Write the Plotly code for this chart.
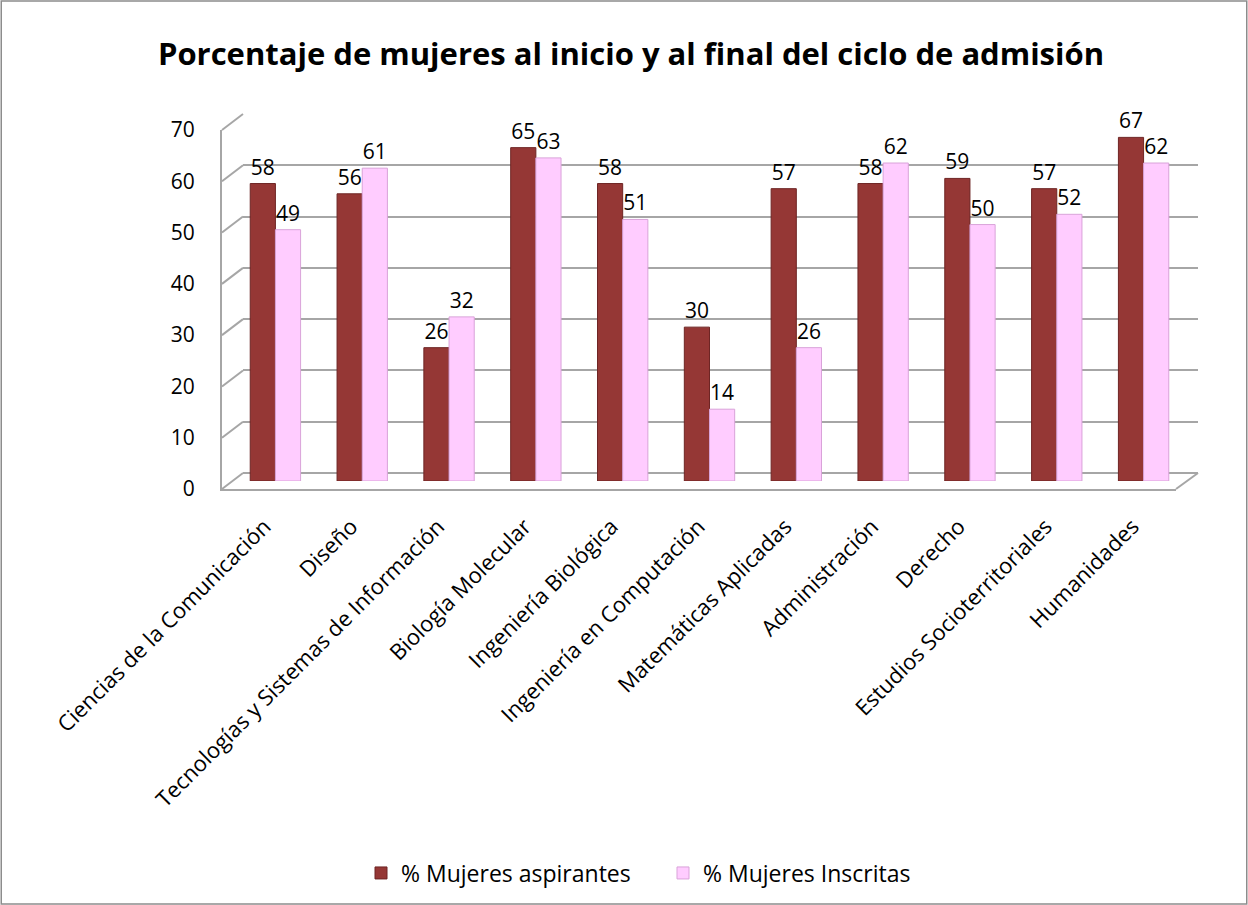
import plotly.graph_objects as go

# ---- data ----
categories = [
    "Ciencias de la Comunicación", "Diseño", "Tecnologías y Sistemas de Información",
    "Biología Molecular", "Ingeniería Biológica", "Ingeniería en Computación",
    "Matemáticas Aplicadas", "Administración", "Derecho",
    "Estudios Socioterritoriales", "Humanidades",
]
aspirantes = [58, 56, 26, 65, 58, 30, 57, 58, 59, 57, 67]
inscritas = [49, 61, 32, 63, 51, 14, 26, 62, 50, 52, 62]
series_names = ["% Mujeres aspirantes", "% Mujeres Inscritas"]
y_ticks = [0, 10, 20, 30, 40, 50, 60, 70]
title_text = "Porcentaje de mujeres al inicio y al final del ciclo de admisión"

# ---- style / geometry ----
W, H = 1248, 905
FONT = "Open Sans"
MAROON = "#953735"
PINK = "#FFCCFF"
GRID = "#A6A6A6"


def px(x):
    return x / W


def py(y):
    return 1 - y / H


# front plane (tick labels), mid plane (bars), back plane (grid)
front = dict(x0=222, x1=1176, y0=489, y1=130)
mid = dict(x0=232, x1=1187, y0=481, y1=122)
back = dict(x0=243, x1=1198, y0=473, y1=114)

fig = go.Figure()

# back grid subplot (x, y)
fig.add_trace(go.Scatter(x=[0, 1], y=[0, 0], mode="lines", line=dict(width=0),
                         showlegend=False, hoverinfo="skip", xaxis="x", yaxis="y"))

# bars (x2, y2)
fig.add_trace(go.Bar(
    x=categories, y=aspirantes, name=series_names[0], xaxis="x2", yaxis="y2",
    marker=dict(color=MAROON, line=dict(color="#6E2524", width=1)),
    text=aspirantes, textposition="outside", cliponaxis=False,
    textfont=dict(family=FONT, size=21, color="black"),
))
fig.add_trace(go.Bar(
    x=categories, y=inscritas, name=series_names[1], xaxis="x2", yaxis="y2",
    marker=dict(color=PINK, line=dict(color="#D9A3D9", width=1)),
    text=inscritas, textposition="outside", cliponaxis=False,
    textfont=dict(family=FONT, size=21, color="black"),
))

# front axis subplot (x3, y3)
fig.add_trace(go.Scatter(x=[0, 1], y=[0, 0], mode="lines", line=dict(width=0),
                         showlegend=False, hoverinfo="skip", xaxis="x3", yaxis="y3"))

rng = [0, 70]

fig.update_layout(
    template="none",
    width=W, height=H,
    margin=dict(l=0, r=0, t=0, b=0, autoexpand=False),
    paper_bgcolor="white", plot_bgcolor="rgba(0,0,0,0)",
    font=dict(family=FONT, size=21, color="black"),
    barmode="group", bargap=0.42, bargroupgap=0.0,
    title=dict(text="<b>" + title_text + "</b>", x=px(631), xanchor="center",
               y=py(54), yanchor="middle", xref="paper", yref="paper",
               font=dict(family=FONT, size=31, color="black")),
    xaxis=dict(domain=[px(back["x0"]), px(back["x1"])], range=[0, 1], automargin=False,
               showgrid=False, zeroline=False, showticklabels=False, showline=False,
               ticks="", fixedrange=True),
    yaxis=dict(domain=[py(back["y0"]), py(back["y1"])], range=rng, automargin=False,
               tickvals=y_ticks, showgrid=True, gridcolor=GRID, gridwidth=2,
               zeroline=True, zerolinecolor=GRID, zerolinewidth=2, showline=False,
               ticks="", showticklabels=False, fixedrange=True),
    xaxis2=dict(domain=[px(mid["x0"]), px(mid["x1"])], anchor="y2", automargin=False,
                type="category", showgrid=False, zeroline=False, showline=False,
                tickangle=-45, ticks="outside", ticklen=23, tickcolor="rgba(0,0,0,0)",
                ticklabelshift=-11,
                tickfont=dict(family=FONT, size=22, color="black"), fixedrange=True),
    yaxis2=dict(domain=[py(mid["y0"]), py(mid["y1"])], anchor="x2", range=rng,
                automargin=False, showgrid=False, zeroline=False, showline=False,
                ticks="", showticklabels=False, fixedrange=True),
    xaxis3=dict(domain=[px(front["x0"]), px(front["x1"])], anchor="y3", range=[0, 1],
                automargin=False, showgrid=False, zeroline=False, showticklabels=False,
                ticks="", showline=True, linecolor=GRID, linewidth=2, fixedrange=True),
    yaxis3=dict(domain=[py(front["y0"]), py(front["y1"])], anchor="x3", range=rng,
                automargin=False, tickvals=y_ticks, showgrid=False, zeroline=False,
                showline=True, linecolor=GRID, linewidth=2,
                ticks="outside", ticklen=21, tickcolor="rgba(0,0,0,0)",
                tickfont=dict(family=FONT, size=21, color="black"), fixedrange=True),
    legend=dict(orientation="h", x=px(361), xanchor="left", y=py(873), yanchor="middle",
                font=dict(family=FONT, size=23, color="black"),
                itemwidth=30, entrywidth=257, entrywidthmode="pixels",
                tracegroupgap=0, bgcolor="rgba(0,0,0,0)"),
    showlegend=True,
)

# left wall diagonals and floor right edge
shapes = []
for v in y_ticks:
    yf = front["y0"] + (front["y1"] - front["y0"]) * v / 70
    yb = back["y0"] + (back["y1"] - back["y0"]) * v / 70
    shapes.append(dict(type="line", xref="paper", yref="paper",
                       x0=px(front["x0"]), y0=py(yf), x1=px(back["x0"]), y1=py(yb),
                       line=dict(color=GRID, width=2), layer="below"))
shapes.append(dict(type="line", xref="paper", yref="paper",
                   x0=px(front["x1"]), y0=py(front["y0"]), x1=px(back["x1"]), y1=py(back["y0"]),
                   line=dict(color=GRID, width=2), layer="below"))
# outer chart border
shapes.append(dict(type="rect", xref="paper", yref="paper", x0=0.001, y0=0.001, x1=0.999, y1=0.999,
                   line=dict(color="#8C8C8C", width=1.5), layer="below"))
fig.update_layout(shapes=shapes)

fig.write_html("out.html", config={"displayModeBar": False},
               post_script="document.body.style.margin='0px';")
